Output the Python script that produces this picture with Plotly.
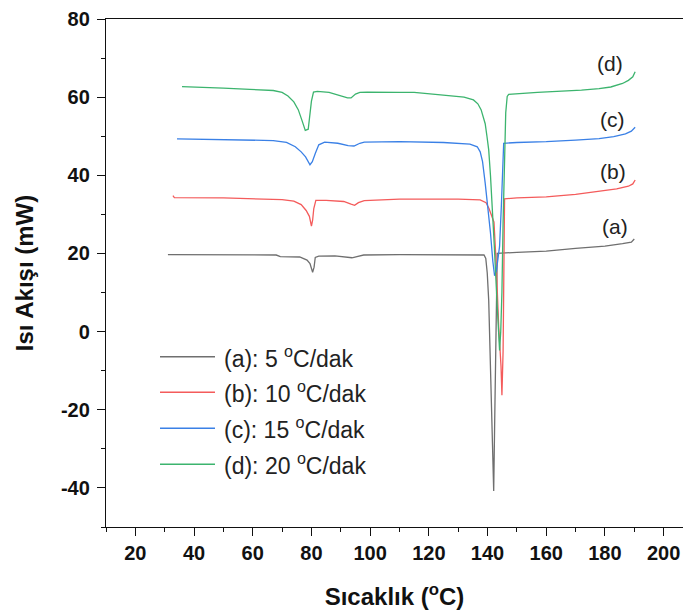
import plotly.graph_objects as go

# ---- data ----
a_x = [31.1, 50, 68.0, 69.4, 76.0, 78.5, 79.5, 80.4, 80.9, 81.3, 82.5, 88, 92.5, 93.8, 95.5, 97.8,
       110, 130, 138.8, 139.4, 139.9, 140.4, 140.9, 141.4, 141.8, 142.1, 142.4, 142.7, 143.0, 143.3,
       150, 160, 170, 180, 186, 189, 190]
a_y = [19.7, 19.6, 19.6, 19.2, 19.1, 18.3, 17.4, 15.2, 16.5, 19.0, 19.3, 19.4, 19.1, 18.9, 19.2, 19.6,
       19.7, 19.7, 19.6, 18.7, 15, 8, -5, -20, -32, -40.8, -25, -5, 12, 20.0,
       20.3, 20.6, 21.3, 21.9, 22.5, 22.9, 23.7]

b_x = [32.8, 33.3, 50, 63.5, 70, 74, 76.5, 78.2, 79.3, 80.0, 80.4, 80.8, 81.5, 85, 91, 93.5, 94.7, 96, 98,
       110, 130, 137.5, 139.5, 140.5, 141.5, 142.2, 143.0, 143.8, 144.6, 144.9, 145.3, 145.6, 145.8,
       150, 160, 170, 178, 184, 188, 189.5, 190.3]
b_y = [34.8, 34.3, 34.2, 34.0, 33.8, 33.4, 32.5, 31.0, 29.5, 27.0, 28.5, 31.5, 33.6, 33.6, 33.3, 32.6, 32.3, 33.0, 33.5,
       33.9, 33.9, 33.7, 33.0, 31.5, 29.5, 28, 16.6, 1.3, -9, -16.3, -5, 20, 34.0,
       34.2, 34.5, 35.1, 35.8, 36.5, 37.2, 37.8, 38.8]

c_x = [34.2, 45, 56, 67, 71.5, 74.5, 76.5, 78, 79.5, 80.3, 81.3, 82.5, 84.5, 89, 92.5, 94.5, 96.5, 98,
       110, 125, 134, 136.5, 137.5, 138.3, 139.2, 140, 141, 141.8, 142.4, 143.0, 143.6, 144.1, 144.7, 145.2, 145.5,
       150, 160, 170, 178, 183, 187, 189, 190.3]
c_y = [49.3, 49.2, 49.1, 48.9, 48.4, 47.3, 46.0, 44.7, 42.7, 43.5, 45.6, 47.8, 48.5, 48.2, 47.6, 47.5, 48.2, 48.5,
       48.6, 48.4, 48.0, 47.3, 46, 43.5, 38, 33, 25.3, 18, 14.3, 15.5, 18.5, 21.8, 32, 42, 48.2,
       48.4, 48.6, 49.0, 49.4, 49.9, 50.6, 51.3, 52.3]

d_x = [35.9, 45, 50, 59, 67, 70, 72, 74, 75.5, 76.8, 77.9, 78.9, 79.5, 80.0, 80.7, 82, 86, 89, 92.3, 93.5, 95.0,
       96.5, 99, 110, 115, 124, 132, 135.2, 136.7, 137.8, 138.6, 139.2, 139.8, 140.4, 141.0, 141.5, 142.3, 143.2,
       143.8, 144.1, 144.5, 144.9, 145.3, 145.7, 146.2, 146.7, 147.2, 157, 165, 172, 178, 182, 186, 188, 189.5, 190.3]
d_y = [62.7, 62.5, 62.3, 62.0, 61.7, 61.2, 60.3, 58.8, 56.8, 54, 51.5, 51.8, 55, 59, 61.3, 61.5, 61.2, 60.6, 59.8, 59.8, 60.8,
       61.2, 61.3, 61.2, 61.2, 60.6, 60.0, 59.3, 58.3, 56.8, 55, 53.2, 50, 46.5, 40, 33.7, 22, 8,
       0, -4.8, 0, 10, 28, 45, 56, 60.2, 60.7, 61.2, 61.5, 61.8, 62.2, 62.6, 63.5, 64.3, 65.2, 66.5]

series_names = ["(a): 5 <sup>o</sup>C/dak", "(b): 10 <sup>o</sup>C/dak",
                "(c): 15 <sup>o</sup>C/dak", "(d): 20 <sup>o</sup>C/dak"]
curve_labels = ["(a)", "(b)", "(c)", "(d)"]
label_x = [183.5, 182.9, 182.7, 181.6]
label_y = [26.9, 40.9, 54.2, 68.5]
colors = ["#6f6f6f", "#f45b5b", "#3a80e6", "#3cb46e"]

x_tickvals = [20, 40, 60, 80, 100, 120, 140, 160, 180, 200]
x_ticktext = ["20", "40", "60", "80", "100", "120", "140", "160", "180", "200"]
y_tickvals = [-40, -20, 0, 20, 40, 60, 80]
y_ticktext = ["-40", "-20", "0", "20", "40", "60", "80"]

xs = [a_x, b_x, c_x, d_x]
ys = [a_y, b_y, c_y, d_y]

FONT = "Liberation Sans, Arial, sans-serif"

fig = go.Figure()
for x, y, name, col in zip(xs, ys, series_names, colors):
    fig.add_trace(go.Scatter(x=x, y=y, mode="lines", name=name,
                             line=dict(color=col, width=1.3), showlegend=False))

# curve labels
for t, lx, ly in zip(curve_labels, label_x, label_y):
    fig.add_annotation(x=lx, y=ly, text=t, showarrow=False, xref="x", yref="y",
                       font=dict(family=FONT, size=21, color="#222"))

# manual legend (paper coords of plot area)
leg_rows = [0.3352, 0.2652, 0.1943, 0.1234]
for name, col, yy in zip(series_names, colors, leg_rows):
    fig.add_shape(type="line", xref="paper", yref="paper", x0=0.0936, x1=0.1889, y0=yy, y1=yy,
                  line=dict(color=col, width=1.5))
    fig.add_annotation(x=0.2005, y=yy, xref="paper", yref="paper", text=name, showarrow=False,
                       xanchor="left", yanchor="middle", font=dict(family=FONT, size=23, color="#222"))

fig.update_layout(
    width=683, height=616,
    margin=dict(l=106, r=0, t=19, b=89, autoexpand=False),
    plot_bgcolor="white", paper_bgcolor="white",
    font=dict(family=FONT, color="#111"),
)
fig.update_xaxes(
    range=[10, 206.6], tickmode="array", tickvals=x_tickvals, ticktext=x_ticktext,
    ticks="outside", ticklen=8, tickwidth=1.3, automargin=False,
    tickcolor="#111", showline=True, linecolor="#111", linewidth=1.3, mirror=True,
    showgrid=False, zeroline=False,
    minor=dict(dtick=10, tick0=0, ticks="outside", ticklen=4, tickwidth=1.3, tickcolor="#111", showgrid=False),
    tickfont=dict(family=FONT, size=20, weight="bold", color="#111"),
    title=dict(text="Sıcaklık (<sup>o</sup>C)", font=dict(family=FONT, size=24, weight="bold", color="#111"),
               standoff=25),
)
fig.update_yaxes(
    range=[-50, 80], tickmode="array", tickvals=y_tickvals, ticktext=y_ticktext,
    ticks="outside", ticklen=8, tickwidth=1.3, automargin=False, ticklabelstandoff=3,
    tickcolor="#111", showline=True, linecolor="#111", linewidth=1.3, mirror=False,
    showgrid=False, zeroline=False,
    minor=dict(dtick=10, tick0=0, ticks="outside", ticklen=4, tickwidth=1.3, tickcolor="#111", showgrid=False),
    tickfont=dict(family=FONT, size=20, weight="bold", color="#111"),
    title=dict(text="Isı Akışı (mW)", font=dict(family=FONT, size=24, weight="bold", color="#111"),
               standoff=20),
)

fig.write_html("out.html", config={"displayModeBar": False},
               post_script="document.body.style.margin='0';document.body.style.overflow='hidden';")
